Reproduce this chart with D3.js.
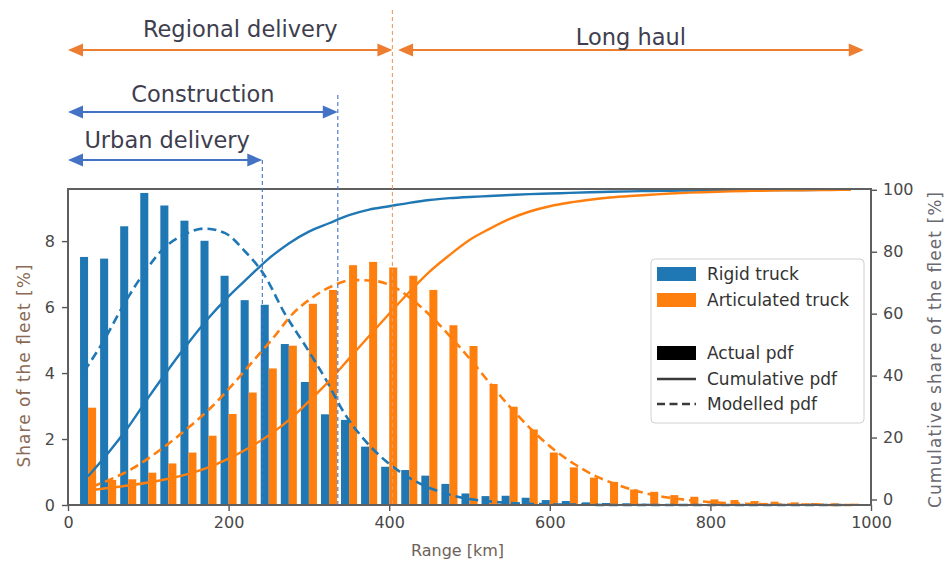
<!DOCTYPE html>
<html><head><meta charset="utf-8">
<script src="https://cdn.jsdelivr.net/npm/d3@7"></script>
<style>body{margin:0;background:#fff}svg{display:block}text{font-family:"DejaVu Sans",sans-serif}</style>
</head><body><svg id="c" width="952" height="568"></svg>
<script>
// ---- data ----
const binCenters = [25,50,75,100,125,150,175,200,225,250,275,300,325,350,375,400,425,450,475,500,525,550,575,600,625,650,675,700,725,750,775,800,825,850,875,900,925,950,975];
const rigidPdf = [7.52,7.47,8.45,9.46,9.08,8.62,8.01,6.95,6.21,6.07,
  4.88,3.73,2.75,2.58,1.77,1.16,1.06,0.89,0.64,0.35,
  0.27,0.28,0.22,0.15,0.12,0.08,0.06,0.05,0.04,0.03,
  0.03,0.02,0.02,0.02,0.01,0.01,0.01,0.01,0.01];
const articulatedPdf = [2.95,0.76,0.78,0.98,1.26,1.59,2.10,2.76,3.41,4.14,
  4.83,6.10,6.52,7.27,7.37,7.20,6.95,6.52,5.45,4.82,
  3.67,2.98,2.29,1.59,1.14,0.83,0.70,0.47,0.40,0.30,
  0.25,0.17,0.15,0.12,0.10,0.08,0.06,0.05,0.04];
const rigidCum = [7.5,15.0,23.4,32.9,42.0,50.6,58.6,65.6,71.8,77.8,
  82.7,86.5,89.2,91.8,93.6,94.7,95.8,96.7,97.3,97.7,
  98.0,98.3,98.6,98.8,99.0,99.2,99.35,99.5,99.6,99.7,
  99.75,99.8,99.85,99.9,99.92,99.94,99.96,99.98,100];
const articulatedCum = [2.9,3.7,4.5,5.5,6.7,8.3,10.4,13.2,16.6,20.7,
  25.6,31.7,38.2,45.5,52.8,60.0,67.0,73.5,78.9,83.8,
  87.4,90.6,93.0,94.7,95.9,96.8,97.5,98.0,98.4,98.8,
  99.1,99.3,99.5,99.65,99.75,99.85,99.9,99.95,100];
const rigidModel = [4.05,5.0,6.1,7.05,7.8,8.2,8.38,8.25,7.7,6.95,
  5.8,4.85,3.85,2.75,1.95,1.35,0.9,0.57,0.35,0.2,
  0.12,0.07,0.04,0.02,0.01,0.01,0,0,0,0,
  0,0,0,0,0,0,0,0,0];
const articulatedModel = [0.55,0.8,1.1,1.5,1.95,2.45,3.0,3.65,4.35,5.05,
  5.8,6.3,6.65,6.82,6.8,6.62,6.2,5.65,5.0,4.3,
  3.55,2.85,2.22,1.68,1.25,0.9,0.65,0.45,0.3,0.2,
  0.13,0.08,0.05,0.03,0.02,0.01,0.01,0,0];
const xTicks = [0,200,400,600,800,1000];
const yLeftTicks = [0,2,4,6,8];
const yRightTicks = [0,20,40,60,80,100];
const seriesNames = ["Rigid truck","Articulated truck"];
const styleNames = ["Actual pdf","Cumulative pdf","Modelled pdf"];
// use-case range annotations (km)
const rangeLabels = ["Regional delivery","Long haul","Construction","Urban delivery"];
const rangeStart = [0,411,0,0];
const rangeEnd = [404,991,336,242];
const thresholdKm = [242,336,404];

// ---- layout ----
const svg = d3.select("#c");
const L=68,R=871,T=189,B=505;
const x = d3.scaleLinear().domain([0,1000]).range([L,R]);
const yL = d3.scaleLinear().domain([0,9.58]).range([B,T]);
const yR = d3.scaleLinear().domain([-1.78,100.26]).range([B,T]);
const BLUE="#1f77b4", ORANGE="#ff7f0e";
const ABLUE="#4472C4", AORANGE="#ED7D31";
const half = 10;

// bars
svg.append("g").selectAll("rect").data(binCenters).join("rect")
  .attr("x",d=>x(d-half)).attr("width",d=>x(d)-x(d-half))
  .attr("y",(d,i)=>yL(rigidPdf[i])).attr("height",(d,i)=>yL(0)-yL(rigidPdf[i]))
  .attr("fill",BLUE);
svg.append("g").selectAll("rect").data(binCenters).join("rect")
  .attr("x",d=>x(d)).attr("width",d=>x(d+half)-x(d))
  .attr("y",(d,i)=>yL(articulatedPdf[i])).attr("height",(d,i)=>yL(0)-yL(articulatedPdf[i]))
  .attr("fill",ORANGE);

// modelled pdf (dashed)
const lineL = d3.line().x(d=>x(d[0])).y(d=>yL(d[1])).curve(d3.curveMonotoneX);
const lineR = d3.line().x(d=>x(d[0])).y(d=>yR(d[1])).curve(d3.curveMonotoneX);
svg.append("path").attr("d",lineL(binCenters.map((c,i)=>[c-5,rigidModel[i]])))
  .attr("fill","none").attr("stroke",BLUE).attr("stroke-width",2.6).attr("stroke-dasharray","9,5");
svg.append("path").attr("d",lineL(binCenters.map((c,i)=>[c+5,articulatedModel[i]])))
  .attr("fill","none").attr("stroke",ORANGE).attr("stroke-width",2.6).attr("stroke-dasharray","9,5");
// cumulative (solid, right axis)
svg.append("path").attr("d",lineR(binCenters.map((c,i)=>[c,rigidCum[i]])))
  .attr("fill","none").attr("stroke",BLUE).attr("stroke-width",2.4);
svg.append("path").attr("d",lineR(binCenters.map((c,i)=>[c,articulatedCum[i]])))
  .attr("fill","none").attr("stroke",ORANGE).attr("stroke-width",2.4);

// axes
function styleAxis(g){
  g.select(".domain").remove();
  g.selectAll(".tick line").attr("stroke","#555").attr("stroke-width",1.4);
  g.selectAll(".tick text").attr("fill","#484848").style("font-size","16px").style("font-family","DejaVu Sans");
}
svg.append("g").attr("transform",`translate(${L},0)`)
  .call(d3.axisLeft(yL).tickValues(yLeftTicks).tickSize(6).tickPadding(7).tickFormat(d3.format("d"))).call(styleAxis);
svg.append("g").attr("transform",`translate(${R},0)`)
  .call(d3.axisRight(yR).tickValues(yRightTicks).tickSize(6).tickPadding(6).tickFormat(d3.format("d"))).call(styleAxis);
svg.append("g").attr("transform",`translate(0,${B})`)
  .call(d3.axisBottom(x).tickValues(xTicks).tickSize(6).tickPadding(6).tickFormat(d3.format("d"))).call(styleAxis);
// frame
svg.append("rect").attr("x",L).attr("y",T).attr("width",R-L).attr("height",B-T)
  .attr("fill","none").attr("stroke","#5f5f5f").attr("stroke-width",2);

// axis titles
svg.append("text").attr("x",(L+R)/2-12).attr("y",556).attr("text-anchor","middle")
  .attr("fill","#6e6258").style("font-size","16px").text("Range [km]");
svg.append("text").attr("transform","translate(30,366) rotate(-90)").attr("text-anchor","middle")
  .attr("fill","#8a6a55").style("font-size","17px").attr("textLength",203).attr("lengthAdjust","spacing")
  .text("Share of the fleet [%]");
svg.append("text").attr("transform","translate(941,350) rotate(-90)").attr("text-anchor","middle")
  .attr("fill","#6a6870").style("font-size","17px").attr("textLength",316).attr("lengthAdjust","spacing")
  .text("Cumulative share of the fleet [%]");

// threshold vertical lines
const vTop = [160,95,10];
const vCol = [ABLUE,ABLUE,"#F19A62"];
thresholdKm.forEach((k,i)=>{
  svg.append("line").attr("x1",x(k)).attr("x2",x(k)).attr("y1",vTop[i]).attr("y2",B)
    .attr("stroke",vCol[i]).attr("stroke-width",1.1).attr("stroke-dasharray","4,3");
});

// range arrows
const arrowY = [50,50,112,160];
const arrowCol = [AORANGE,AORANGE,ABLUE,ABLUE];
const labelY = [37,45,102,148];
const labelShift = [10,0,0,2];
const AL=15, AH=6.5;
rangeLabels.forEach((lab,i)=>{
  const x0=x(rangeStart[i]), x1=x(rangeEnd[i]), y=arrowY[i], c=arrowCol[i];
  svg.append("line").attr("x1",x0+AL-2).attr("x2",x1-AL+2).attr("y1",y).attr("y2",y)
    .attr("stroke",c).attr("stroke-width",2.2);
  svg.append("path").attr("d",`M${x0},${y}L${x0+AL},${y-AH}L${x0+AL},${y+AH}Z`).attr("fill",c);
  svg.append("path").attr("d",`M${x1},${y}L${x1-AL},${y-AH}L${x1-AL},${y+AH}Z`).attr("fill",c);
  svg.append("text").attr("x",(x0+x1)/2+labelShift[i]).attr("y",labelY[i]).attr("text-anchor","middle")
    .attr("fill","#3e3e4e").style("font-size","22.5px").text(lab);
});

// legend
const lg = svg.append("g");
lg.append("rect").attr("x",651).attr("y",259).attr("width",213).attr("height",164).attr("rx",4)
  .attr("fill","#fff").attr("fill-opacity",0.85).attr("stroke","#d0d0d0");
const rowY = [274,300,353,379,404];
[BLUE,ORANGE].forEach((c,i)=>{
  lg.append("rect").attr("x",657).attr("y",rowY[i]-7).attr("width",39).attr("height",14).attr("fill",c);
  lg.append("text").attr("x",707).attr("y",rowY[i]).attr("dy","0.35em").attr("fill","#333")
    .style("font-size","17px").text(seriesNames[i]);
});
lg.append("rect").attr("x",657).attr("y",rowY[2]-7).attr("width",39).attr("height",14).attr("fill","#000");
lg.append("line").attr("x1",657).attr("x2",696).attr("y1",rowY[3]).attr("y2",rowY[3]).attr("stroke","#3a3a3a").attr("stroke-width",2.4);
lg.append("line").attr("x1",657).attr("x2",696).attr("y1",rowY[4]).attr("y2",rowY[4]).attr("stroke","#3a3a3a").attr("stroke-width",2.4).attr("stroke-dasharray","8,4.5");
styleNames.forEach((s,i)=>{
  lg.append("text").attr("x",707).attr("y",rowY[i+2]).attr("dy","0.35em").attr("fill","#333")
    .style("font-size","17px").text(s);
});
</script></body></html>
